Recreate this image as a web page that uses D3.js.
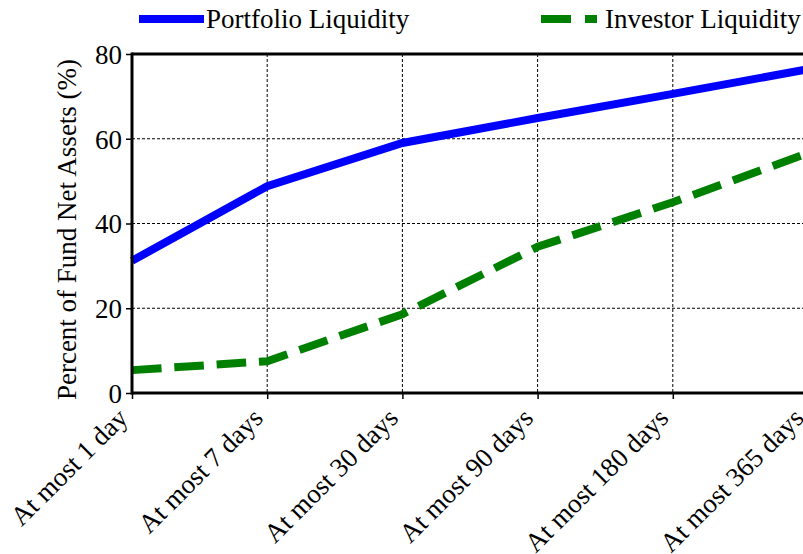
<!DOCTYPE html>
<html>
<head>
<meta charset="utf-8">
<script src="https://d3js.org/d3.v7.min.js"></script>
<style>
  body { margin: 0; background: #fff; }
  svg text { font-family: "Liberation Serif", "DejaVu Serif", serif; fill: #000; }
  .grid line { stroke: #000; stroke-width: 1; stroke-dasharray: 3,2; }
</style>
</head>
<body>
<svg id="chart" width="803" height="554"></svg>
<script>
// data
var categories = ["At most 1 day", "At most 7 days", "At most 30 days", "At most 90 days", "At most 180 days", "At most 365 days"];
var portfolio = [31.2, 48.8, 59.0, 64.9, 70.6, 76.4];
var investor = [5.4, 7.5, 18.6, 34.5, 45.0, 56.6];
var yTicks = [0, 20, 40, 60, 80];

var svg = d3.select("#chart");
var plotLeft = 132, plotTop = 54, plotRight = 808, plotBottom = 393;
var fs = "27px";

var x = d3.scalePoint().domain(categories).range([plotLeft, plotRight]);
var y = d3.scaleLinear().domain([0, 80]).range([plotBottom, plotTop]);

// grid
var grid = svg.append("g").attr("class", "grid");
grid.selectAll(".v").data(categories.slice(1)).enter().append("line")
  .attr("x1", d => x(d)).attr("x2", d => x(d))
  .attr("y1", plotTop).attr("y2", plotBottom);
grid.selectAll(".h").data(yTicks.slice(1, -1)).enter().append("line")
  .attr("x1", plotLeft).attr("x2", plotRight)
  .attr("y1", d => y(d)).attr("y2", d => y(d));

// lines
var line = d3.line().x((d, i) => x(categories[i])).y(d => y(d));
svg.append("path").datum(portfolio)
  .attr("d", line).attr("fill", "none")
  .attr("stroke", "#0000ff").attr("stroke-width", 8);
svg.append("path").datum(investor)
  .attr("d", line).attr("fill", "none")
  .attr("stroke", "#008000").attr("stroke-width", 8)
  .attr("stroke-dasharray", "29.6,12.8");

// axes
var yAxis = svg.append("g").attr("transform", "translate(" + plotLeft + ",0)")
  .call(d3.axisLeft(y).tickValues(yTicks).tickSize(6).tickPadding(4));
yAxis.select(".domain").remove();
yAxis.selectAll(".tick line").attr("stroke-width", 1.5);
yAxis.selectAll("text").style("font-size", fs).attr("dy", "0.35em");

var xAxis = svg.append("g").attr("transform", "translate(0," + plotBottom + ")")
  .call(d3.axisBottom(x).tickSize(6));
xAxis.select(".domain").remove();
xAxis.selectAll(".tick line").attr("stroke-width", 1.5);
xAxis.selectAll("text")
  .style("font-size", fs)
  .attr("text-anchor", "end")
  .attr("x", 0).attr("y", 0).attr("dy", "0.35em")
  .attr("transform", "translate(-10,20) rotate(-45)");

// spines
svg.append("line").attr("x1", plotLeft).attr("x2", plotLeft).attr("y1", plotTop - 1.5).attr("y2", plotBottom + 1.5)
  .attr("stroke", "#000").attr("stroke-width", 3);
svg.append("line").attr("x1", plotLeft).attr("x2", plotRight).attr("y1", plotBottom).attr("y2", plotBottom)
  .attr("stroke", "#000").attr("stroke-width", 3);
svg.append("line").attr("x1", plotLeft).attr("x2", plotRight).attr("y1", plotTop).attr("y2", plotTop)
  .attr("stroke", "#000").attr("stroke-width", 3);

// y label
svg.append("text")
  .attr("transform", "translate(76," + ((plotTop + plotBottom) / 2 + 6) + ") rotate(-90)")
  .attr("text-anchor", "middle")
  .style("font-size", fs)
  .text("Percent of Fund Net Assets (%)");

// legend
var legend = [
  { name: "Portfolio Liquidity", color: "#0000ff", dash: null, x1: 139, x2: 204, tx: 206 },
  { name: "Investor Liquidity", color: "#008000", dash: "30,14", x1: 541, x2: 597, tx: 605 }
];
legend.forEach(function (d) {
  svg.append("line").attr("x1", d.x1).attr("x2", d.x2).attr("y1", 19).attr("y2", 19)
    .attr("stroke", d.color).attr("stroke-width", 8)
    .attr("stroke-dasharray", d.dash);
  svg.append("text").attr("x", d.tx).attr("y", 28)
    .style("font-size", fs).text(d.name);
});
</script>
</body>
</html>
